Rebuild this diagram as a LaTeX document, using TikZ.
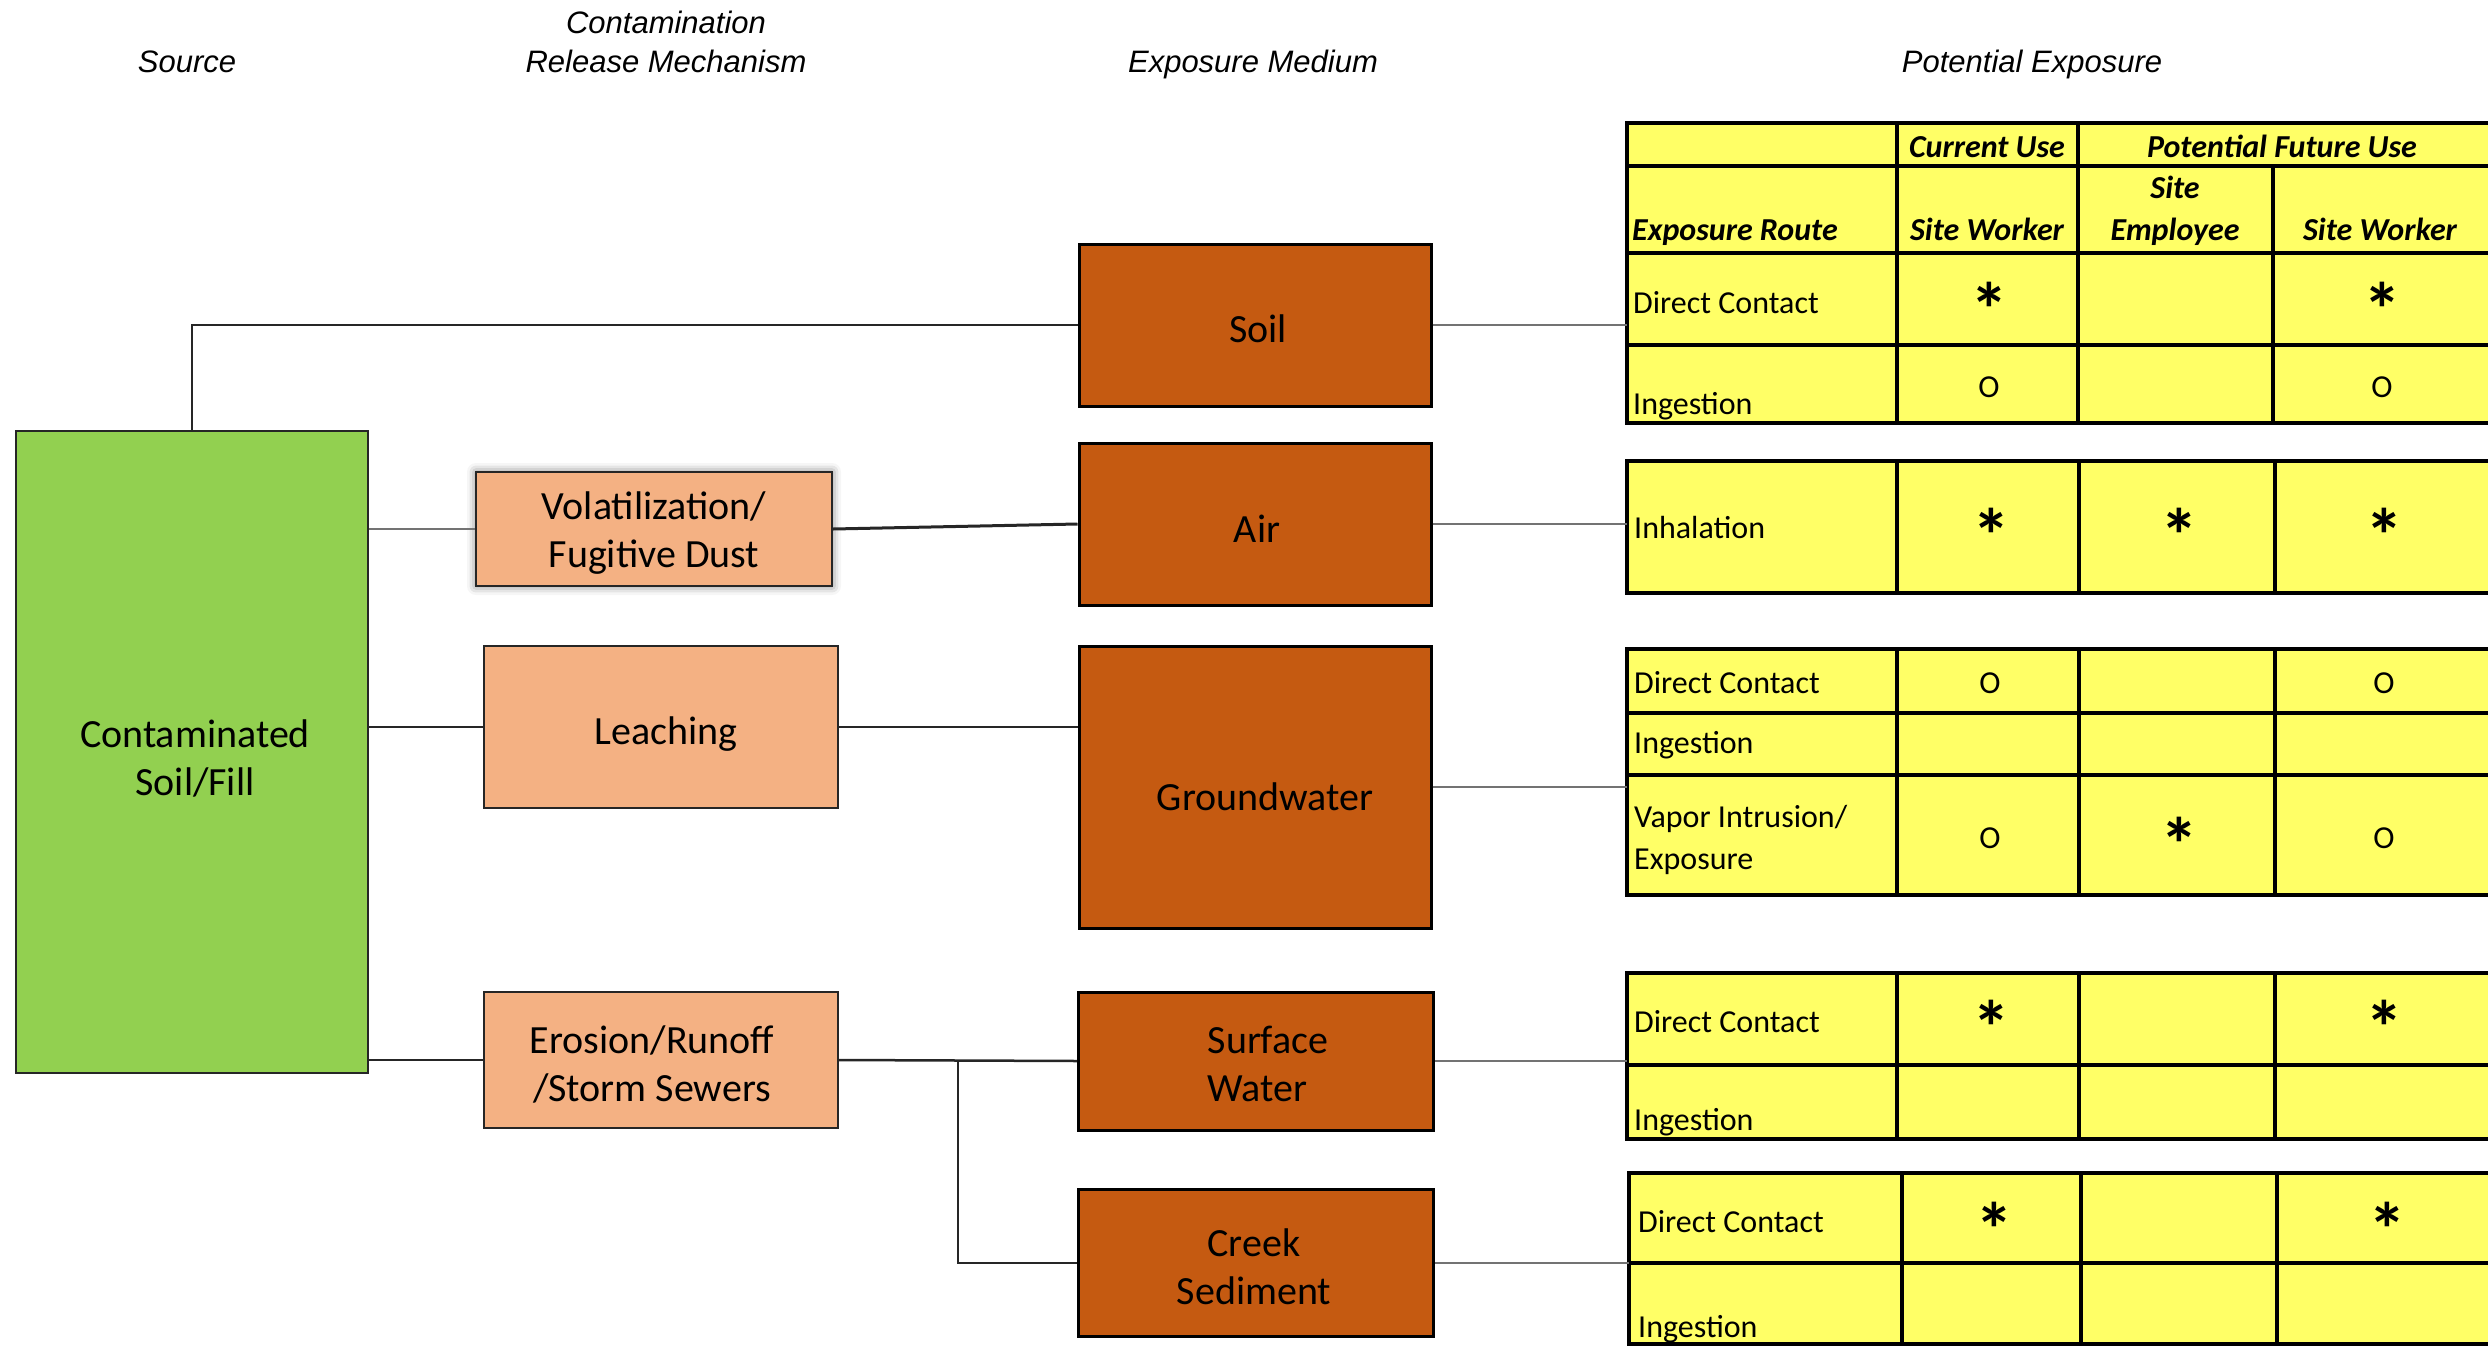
\documentclass[tikz,border=0pt]{standalone}
\usepackage{fontspec}
\setmainfont{Carlito}
\newfontfamily\hdrfont{Liberation Sans}
\usetikzlibrary{shadows.blur}
\definecolor{srcgreen}{HTML}{92D050}
\definecolor{relorange}{HTML}{F4B183}
\definecolor{medorange}{HTML}{C55A11}
\definecolor{tblyellow}{HTML}{FFFF66}
\begin{document}
\begin{tikzpicture}[x=1pt,y=-1pt,
  hdr/.style={font=\hdrfont\itshape\fontsize{31}{37}\selectfont, anchor=base, inner sep=0pt},
  boxtext/.style={font=\fontsize{40}{48}\selectfont, align=center, inner sep=0pt},
  srcbox/.style={draw=black!85, line width=2pt, fill=srcgreen, boxtext},
  relbox/.style={draw=black!85, line width=2pt, fill=relorange, boxtext},
  medbox/.style={draw=black, line width=3pt, fill=medorange, boxtext},
  blk/.style={draw=black!85, line width=2.5pt},
  gry/.style={draw=black!55, line width=2pt},
  tline/.style={draw=black, line width=4.5pt, line cap=rect},
  cell/.style={font=\fontsize{32}{38}\selectfont, anchor=base west, inner sep=0pt},
  cellhd/.style={font=\fontsize{32}{38}\selectfont\bfseries\itshape, anchor=base, inner sep=0pt},
  cellhdl/.style={font=\fontsize{32}{38}\selectfont\bfseries\itshape, anchor=base west, inner sep=0pt},
  starsym/.style={font=\fontsize{76}{76}\selectfont\bfseries, anchor=north, inner sep=0pt},
  omark/.style={font=\fontsize{32}{38}\selectfont, anchor=center, inner sep=0pt},
  btxt/.style={inner sep=0pt, font=\fontsize{40}{48}\selectfont, align=center}
]
\useasboundingbox (0,0) rectangle (2488,1346);

% headers
\node[hdr] (hsrc) at (187,73) {Source};
\node[hdr] (hcon) at (666,34) {Contamination};
\node[hdr] (hrel) at (666,73) {Release Mechanism};
\node[hdr] (hmed) at (1253,73) {Exposure Medium};
\node[hdr] (hpot) at (2032,73) {Potential Exposure};

% table left edges
\coordinate (t1) at (1627,123);
\coordinate (t2) at (1627,461);
\coordinate (t3) at (1627,649);
\coordinate (t4) at (1627,973);
\coordinate (t5) at (1629,1173);

% table 1
\fill[tblyellow] (1627,123) rectangle (2495,423);
\draw[tline] (1627,123) -- (2495,123) (1627,166) -- (2495,166) (1627,253) -- (2495,253)
  (1627,345) -- (2495,345) (1627,423) -- (2495,423)
  (1627,123) -- (1627,423) (1897,123) -- (1897,423) (2078,123) -- (2078,423) (2273,166) -- (2273,423);
\node[cellhd] (cu) at (1987,157) {Current Use};
\node[cellhd] (pfu) at (2282,157) {Potential Future Use};
\node[cellhdl] (er) at (1632,240) {Exposure Route};
\node[cellhd] (sw1) at (1987,240) {Site Worker};
\node[cellhd] (se1) at (2175,198) {Site};
\node[cellhd] (se2) at (2175,240) {Employee};
\node[cellhd] (sw2) at (2380,240) {Site Worker};
\node[cell] (a1) at (1633,313) {Direct Contact};
\node[starsym] (a1s1) at (1989,282) {*};
\node[starsym] (a1s3) at (2382,282) {*};
\node[cell] (a2) at (1633,414) {Ingestion};
\node[omark] (a2o1) at (1989,387) {O};
\node[omark] (a2o3) at (2382,387) {O};

% table 2
\fill[tblyellow] (1627,461) rectangle (2495,593);
\draw[tline] (1627,461) -- (2495,461) (1627,593) -- (2495,593)
  (1627,461) -- (1627,593) (1897,461) -- (1897,593) (2079,461) -- (2079,593) (2275,461) -- (2275,593);
\node[cell] (b1) at (1634,538) {Inhalation};
\node[starsym] (b1s1) at (1991,508) {*};
\node[starsym] (b1s2) at (2179,508) {*};
\node[starsym] (b1s3) at (2384,508) {*};

% table 3
\fill[tblyellow] (1627,649) rectangle (2495,895);
\draw[tline] (1627,649) -- (2495,649) (1627,713) -- (2495,713) (1627,775) -- (2495,775) (1627,895) -- (2495,895)
  (1627,649) -- (1627,895) (1897,649) -- (1897,895) (2079,649) -- (2079,895) (2275,649) -- (2275,895);
\node[cell] (c1) at (1634,693) {Direct Contact};
\node[omark] (c1o1) at (1990,683) {O};
\node[omark] (c1o3) at (2384,683) {O};
\node[cell] (c2) at (1634,753) {Ingestion};
\node[cell] (c3a) at (1634,827) {Vapor Intrusion/};
\node[cell] (c3b) at (1634,869) {Exposure};
\node[omark] (c3o1) at (1990,838) {O};
\node[starsym] (c3s2) at (2179,817) {*};
\node[omark] (c3o3) at (2384,838) {O};

% table 4
\fill[tblyellow] (1627,973) rectangle (2495,1139);
\draw[tline] (1627,973) -- (2495,973) (1627,1065) -- (2495,1065) (1627,1139) -- (2495,1139)
  (1627,973) -- (1627,1139) (1897,973) -- (1897,1139) (2079,973) -- (2079,1139) (2275,973) -- (2275,1139);
\node[cell] (d1) at (1634,1032) {Direct Contact};
\node[starsym] (d1s1) at (1991,1000) {*};
\node[starsym] (d1s3) at (2384,1000) {*};
\node[cell] (d2) at (1634,1130) {Ingestion};

% table 5
\fill[tblyellow] (1629,1173) rectangle (2495,1344);
\draw[tline] (1629,1173) -- (2495,1173) (1629,1263) -- (2495,1263) (1629,1344) -- (2495,1344)
  (1629,1173) -- (1629,1344) (1902,1173) -- (1902,1344) (2081,1173) -- (2081,1344) (2277,1173) -- (2277,1344);
\node[cell] (e1) at (1638,1232) {Direct Contact};
\node[starsym] (e1s1) at (1994,1202) {*};
\node[starsym] (e1s3) at (2387,1202) {*};
\node[cell] (e2) at (1638,1337) {Ingestion};

% boxes
\node[srcbox, minimum width=352pt, minimum height=642pt] (src) at (192,752) {};
\node[relbox, minimum width=356pt, minimum height=114pt,
  blur shadow={shadow xshift=0pt, shadow yshift=0pt, shadow blur radius=9pt, shadow opacity=55}] (vol) at (654,529) {};
\node[relbox, minimum width=354pt, minimum height=162pt] (leach) at (661,727) {};
\node[relbox, minimum width=354pt, minimum height=136pt] (eros) at (661,1060) {};
\node[medbox, minimum width=352pt, minimum height=162pt] (soil) at (1255,325) {};
\node[medbox, minimum width=352pt, minimum height=162pt] (air) at (1255,524) {};
\node[medbox, minimum width=352pt, minimum height=282pt] (gw) at (1255,787) {};
\node[medbox, minimum width=355pt, minimum height=138pt] (sw) at (1256,1061) {};
\node[medbox, minimum width=355pt, minimum height=147pt] (creek) at (1256,1263) {};

% box labels
\node[btxt] (srcl) at (195,758) {Contaminated\\Soil/Fill};
\node[btxt] (voll) at (654,533) {Volatilization/\\Fugitive Dust};
\node[btxt] (leachl) at (666,734) {Leaching};
\node[btxt] (erosl) at (652,1064) {Erosion/Runoff\\/Storm Sewers};
\node[btxt] (soill) at (1258,329) {Soil};
\node[btxt] (airl) at (1257,529) {Air};
\node[btxt] (gwl) at (1265,797) {Groundwater};
\node[btxt, align=left] (swl) at (1268,1064) {Surface\\Water};
\node[btxt] (creekl) at (1254,1267) {Creek\\Sediment};

% connectors
\draw[blk] (src.north) |- (soil.west);
\draw[gry] (src.east |- vol.west) -- (vol.west);
\draw[blk, line width=3pt] (vol.east) -- (air.west);
\draw[blk] (src.east |- leach.west) -- (leach.west);
\draw[blk] (leach.east) -- (leach.east -| gw.west);
\draw[blk] (src.east |- eros.west) -- (eros.west);
\draw[blk] (eros.east) -- (sw.west);
\coordinate (j) at (958,1061);
\draw[blk] (j) |- (creek.west);

\draw[gry] (soil.east) -- (soil.east -| t1);
\draw[gry] (air.east) -- (air.east -| t2);
\draw[gry] (gw.east) -- (gw.east -| t3);
\draw[gry] (sw.east) -- (sw.east -| t4);
\draw[gry] (creek.east) -- (creek.east -| t5);
\end{tikzpicture}
\end{document}
